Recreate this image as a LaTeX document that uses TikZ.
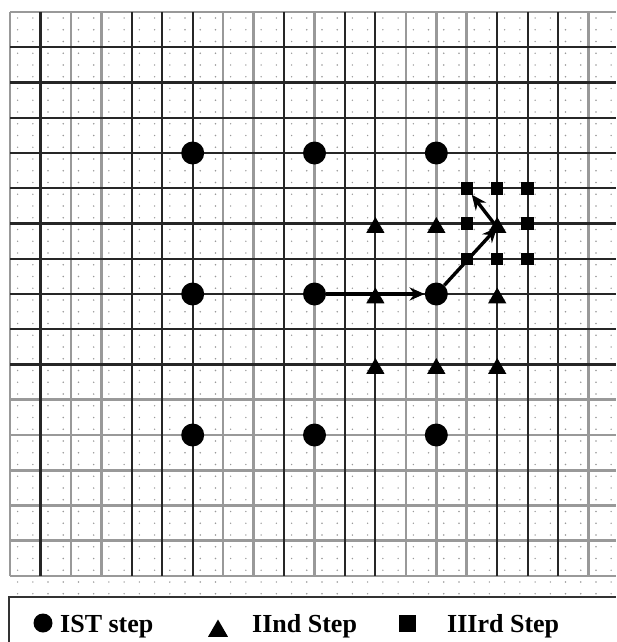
\documentclass[tikz,border=0pt]{standalone}
\usepackage{fontspec}
\setmainfont{Liberation Serif}
\usetikzlibrary{shapes.geometric,arrows.meta}

\tikzset{
  darkline/.style={black!85, line width=2.1pt},
  lightline/.style={black!40, line width=2.6pt},
  firstmark/.style={circle, fill=black, inner sep=0pt, minimum size=23pt},
  secondmark/.style={regular polygon, regular polygon sides=3, fill=black, inner sep=0pt, minimum size=21pt, yshift=-4pt},
  thirdmark/.style={rectangle, fill=black, inner sep=0pt, minimum size=12.5pt},
  move/.style={line width=3.4pt, -{Stealth[length=15pt,width=13pt]}},
  legendtext/.style={anchor=base west, inner sep=0pt, font=\bfseries\fontsize{26}{30}\selectfont}
}

\begin{document}
\begin{tikzpicture}[x=1pt, y=-1pt]
  \useasboundingbox (0,0) rectangle (616,642);
  % grid: 1 column = 30.45 px, 1 row = 35.25 px
  \def\gx{10}
  \def\gy{12}
  \def\cw{30.45}
  \def\rh{35.25}
  \pgfmathsetmacro{\gbottom}{\gy+16*\rh}

  % ---- dot pattern ----
  \foreach \i in {0,...,39} {
    \foreach \j in {0,...,49} {
      \fill[black!40] ({\gx+7.6+\i*15.22}, {\gy+6+\j*11.75}) circle (0.8);
    }
  }

  % ---- grid lines (light ones first) ----
  \foreach \k in {0,2,3,7,8,10,13,14,15,19}
    \draw[lightline] ({\gx+\k*\cw},\gy) -- ({\gx+\k*\cw},\gbottom);
  \foreach \j in {0,11,12,...,16}
    \draw[lightline] (\gx,{\gy+\j*\rh}) -- (616,{\gy+\j*\rh});
  \foreach \j in {1,...,10}
    \draw[darkline] (\gx,{\gy+\j*\rh}) -- (616,{\gy+\j*\rh});
  \foreach \k in {1,4,5,6,9,11,12,16,17,18}
    \draw[darkline] ({\gx+\k*\cw},\gy) -- ({\gx+\k*\cw},\gbottom);

  % ---- IST step: circles every 4 cells ----
  \foreach \r/\j in {1/4,2/8,3/12}
    \foreach \c/\k in {1/6,2/10,3/14}
      \node[firstmark] (c\r\c) at ({\gx+\k*\cw},{\gy+\j*\rh}) {};

  % ---- IInd Step: triangles round c23 ----
  \foreach \name/\k/\j in {t11/12/6, t12/14/6, t13/16/6, t21/12/8, t23/16/8, t31/12/10, t32/14/10, t33/16/10}
    \node[secondmark] (\name) at ({\gx+\k*\cw},{\gy+\j*\rh}) {};

  % ---- IIIrd Step: squares round t13 ----
  \foreach \name/\k/\j in {s11/15/5, s12/16/5, s13/17/5, s21/15/6, s23/17/6, s31/15/7, s32/16/7, s33/17/7}
    \node[thirdmark] (\name) at ({\gx+\k*\cw},{\gy+\j*\rh}) {};

  % ---- search path ----
  \draw[move] (c22) -- (c23);
  \draw[move] (c23) -- (t13.center);
  \draw[move] (t13.center) -- (s11);

  % ---- legend ----
  \draw[black!80, line width=2pt] (9,642) |- (616,597);
  \node[firstmark, minimum size=19pt] (leg1) at (43,623) {};
  \node[legendtext] (leg1t) at (60,632) {IST step};
  \node[secondmark, minimum size=23pt, yshift=0pt] (leg2) at (218,627) {};
  \node[legendtext] (leg2t) at (252,632) {IInd Step};
  \node[thirdmark, minimum size=17pt] (leg3) at (407,623) {};
  \node[legendtext] (leg3t) at (447,632) {IIIrd Step};
\end{tikzpicture}
\end{document}
